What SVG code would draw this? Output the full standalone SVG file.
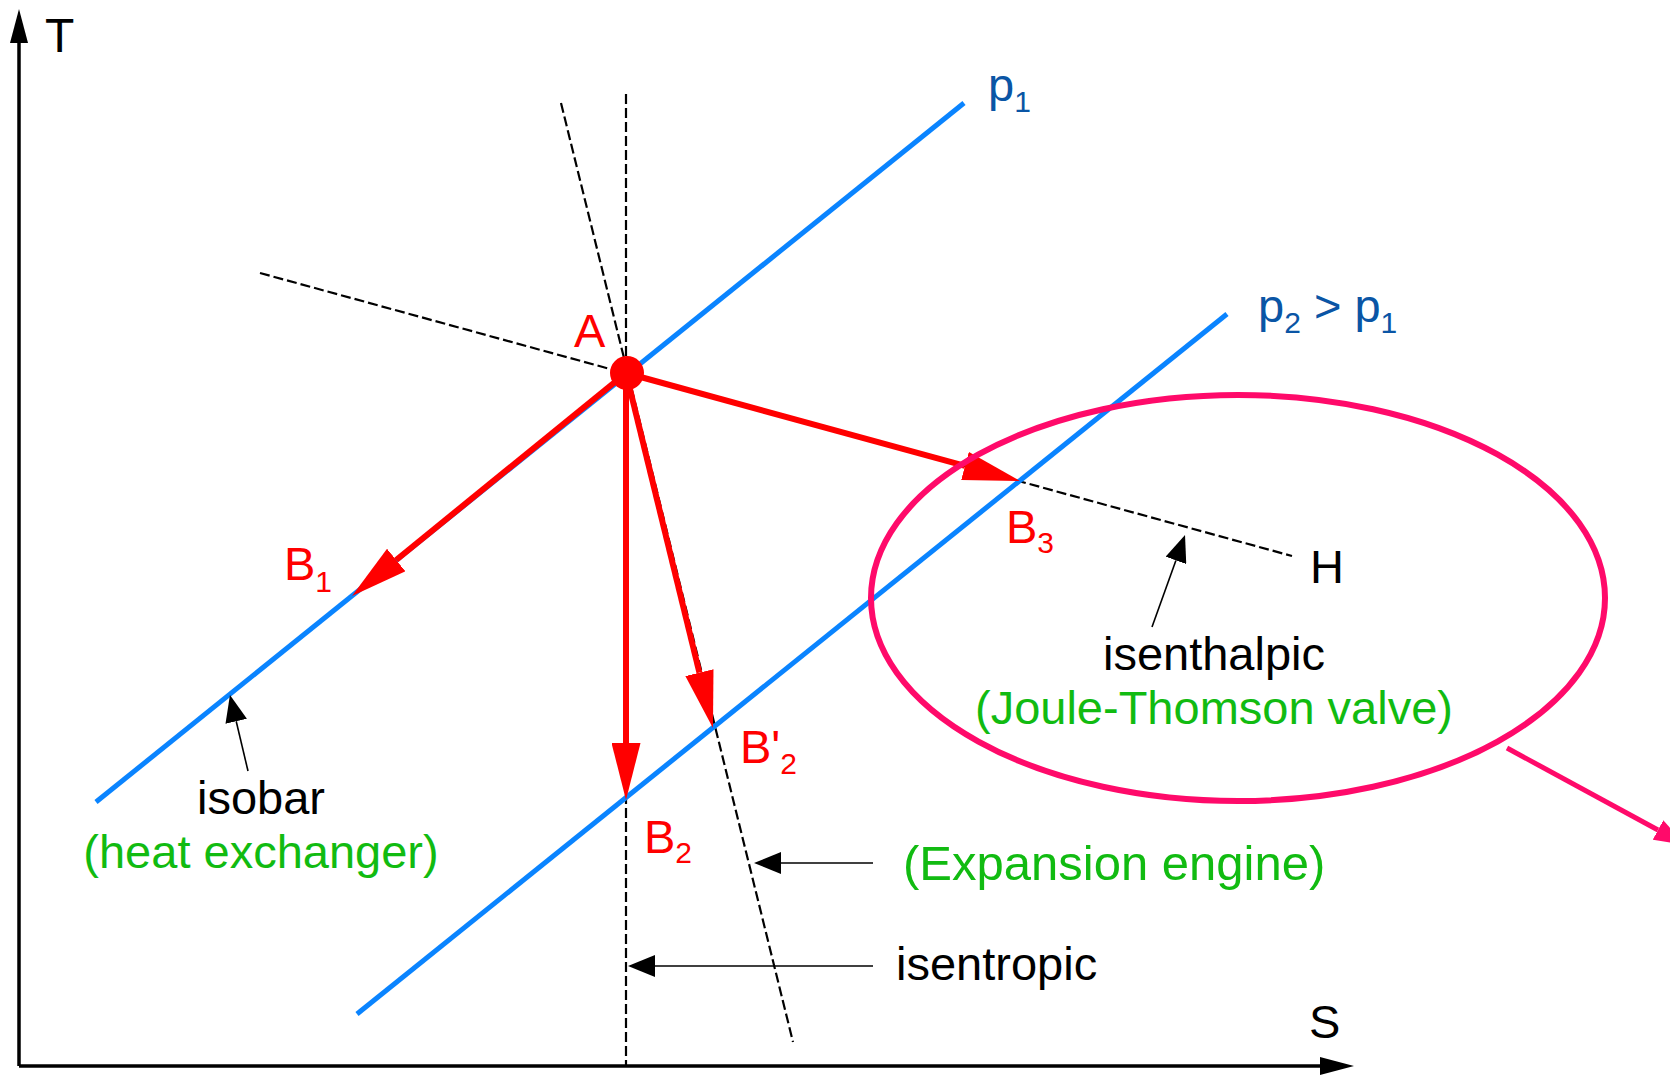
<svg xmlns="http://www.w3.org/2000/svg" width="1670" height="1076" viewBox="0 0 1670 1076">
<style>
text{font-family:"Liberation Sans",Arial,sans-serif;font-size:47px}
.blk{fill:#000}
.red{fill:#ff0000}
.grn{fill:#11bb11}
.blu{fill:#0a55a5}
.sub{font-size:30px}
.dash{stroke:#000;stroke-width:2.2;stroke-dasharray:10,4;fill:none}
.iso{stroke:#0a84ff;stroke-width:5;fill:none}
.rarr{stroke:#ff0000;stroke-width:6;fill:none;marker-end:url(#mRed)}
.thin{stroke:#000;stroke-width:1.6;fill:none;marker-end:url(#mThin)}
.axis{stroke:#000;stroke-width:3.5;fill:none;marker-end:url(#mAxis)}
</style>
<defs>
<marker id="mRed" viewBox="0 0 57 29" refX="0" refY="14.5" markerWidth="57" markerHeight="29" markerUnits="userSpaceOnUse" orient="auto"><path d="M0,0 L57,14.5 L0,29 z" fill="#ff0000"/></marker>
<marker id="mThin" viewBox="0 0 27 22" refX="0" refY="11" markerWidth="27" markerHeight="22" markerUnits="userSpaceOnUse" orient="auto"><path d="M0,0 L27,11 L0,22 z" fill="#000"/></marker>
<marker id="mAxis" viewBox="0 0 34 18" refX="0" refY="9" markerWidth="34" markerHeight="18" markerUnits="userSpaceOnUse" orient="auto"><path d="M0,0 L34,9 L0,18 z" fill="#000"/></marker>
<marker id="mPink" viewBox="0 0 32 22" refX="0" refY="11" markerWidth="32" markerHeight="22" markerUnits="userSpaceOnUse" orient="auto"><path d="M0,0 L32,11 L0,22 z" fill="#ff0a6a"/></marker>
</defs>
<rect width="1670" height="1076" fill="#fff"/>
<g id="axes">
<line class="axis" x1="19" y1="1066" x2="19" y2="43"/>
<line class="axis" x1="19" y1="1066" x2="1320" y2="1066"/>
</g>
<g id="connectors">
<line class="dash" x1="626" y1="94" x2="626" y2="1066"/>
<line class="dash" x1="561" y1="103" x2="793" y2="1042"/>
<line class="dash" x1="260" y1="273" x2="1292" y2="556"/>
<line class="iso" x1="96" y1="802" x2="964" y2="103"/>
<line class="iso" x1="357" y1="1014" x2="1227" y2="314"/>
<line class="rarr" x1="626" y1="373" x2="396.2" y2="560"/>
<line class="rarr" x1="626" y1="373" x2="626" y2="743"/>
<line class="rarr" x1="626" y1="373" x2="699.4" y2="672.6"/>
<line class="rarr" x1="626" y1="373" x2="965" y2="465.9"/>
<line class="thin" x1="248" y1="771" x2="236.2" y2="721.3"/>
<line class="thin" x1="1152" y1="627" x2="1175.9" y2="560.4"/>
<line class="thin" x1="873" y1="863" x2="781" y2="863"/>
<line class="thin" x1="873" y1="966" x2="655" y2="966"/>
<line x1="1507" y1="748" x2="1658" y2="830" stroke="#ff0a6a" stroke-width="5" marker-end="url(#mPink)"/>
</g>
<g id="node-A">
<circle cx="627" cy="373" r="17" fill="#ff0000"/>
<text class="red" x="574" y="347">A</text>
</g>
<g id="node-B1"><text class="red" x="284" y="580">B<tspan class="sub" dy="12">1</tspan></text></g>
<g id="node-B2"><text class="red" x="644" y="853">B<tspan class="sub" dy="10">2</tspan></text></g>
<g id="node-B2p"><text class="red" x="740" y="763">B'<tspan class="sub" dy="11">2</tspan></text></g>
<g id="node-B3"><text class="red" x="1006" y="543">B<tspan class="sub" dy="10">3</tspan></text></g>
<g id="node-H"><text class="blk" x="1310" y="583">H</text></g>
<g id="node-T"><text class="blk" x="45" y="52" style="font-size:48px">T</text></g>
<g id="node-S"><text class="blk" x="1309" y="1038">S</text></g>
<g id="node-p1"><text class="blu" x="988" y="101">p<tspan class="sub" dy="11">1</tspan></text></g>
<g id="node-p2"><text class="blu" x="1258" y="322">p<tspan class="sub" dy="11">2</tspan><tspan dy="-11"> &gt; p</tspan><tspan class="sub" dy="11">1</tspan></text></g>
<g id="jt-highlight">
<ellipse cx="1238" cy="598" rx="367" ry="203" fill="none" stroke="#ff0a6a" stroke-width="6"/>
</g>
<g id="label-isobar">
<text class="blk" x="261" y="814" text-anchor="middle">isobar</text>
<text class="grn" x="261" y="868" text-anchor="middle">(heat exchanger)</text>
</g>
<g id="label-isenthalpic">
<text class="blk" x="1214" y="670" text-anchor="middle">isenthalpic</text>
<text class="grn" x="1214" y="724" text-anchor="middle">(Joule-Thomson valve)</text>
</g>
<g id="label-expansion"><text class="grn" x="903" y="880" style="font-size:49px">(Expansion engine)</text></g>
<g id="label-isentropic"><text class="blk" x="896" y="980">isentropic</text></g>
</svg>
